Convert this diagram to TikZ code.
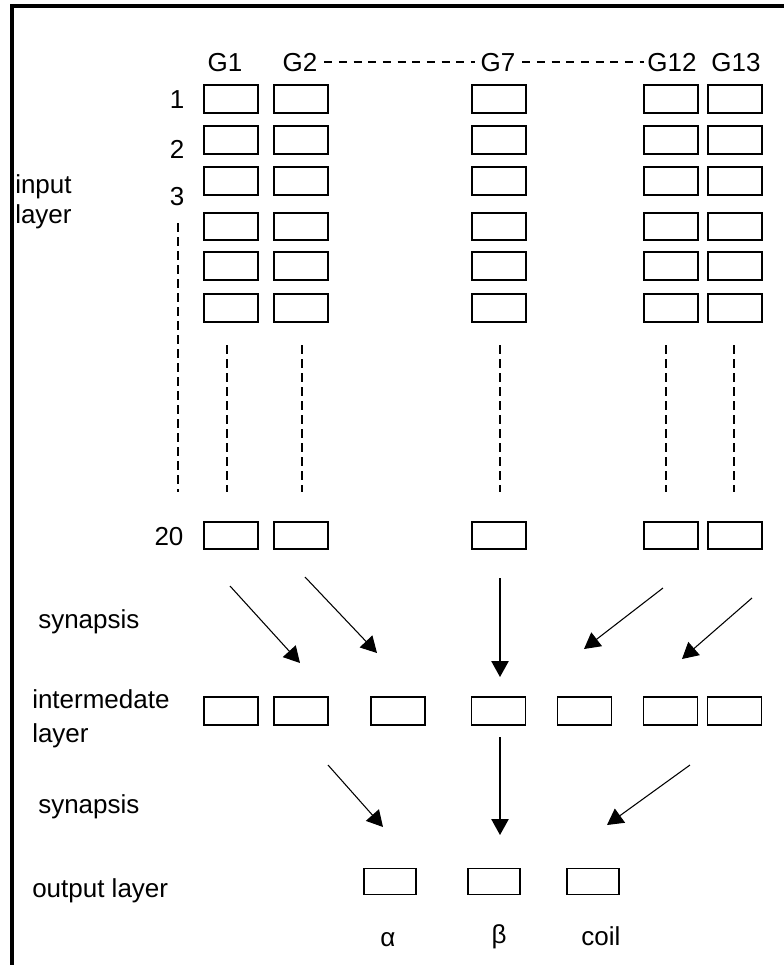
\documentclass[tikz,border=0pt]{standalone}
\usepackage{fontspec}
\setmainfont{Liberation Sans}
\usetikzlibrary{arrows.meta}
\begin{document}
\begin{tikzpicture}[x=0.75pt,y=-0.75pt,
  cell/.style={draw,line width=1.5pt,minimum width=40.5pt,minimum height=20.5pt,inner sep=0pt},
  mcell/.style={draw,line width=1.3pt,minimum width=40.5pt,minimum height=20.5pt,inner sep=0pt},
  ocell/.style={draw,line width=1.2pt,minimum width=39pt,minimum height=19.5pt,inner sep=0pt},
  lbl/.style={inner sep=0pt,font=\fontsize{19.5}{23}\selectfont},
  vdash/.style={line width=1.5pt,dash pattern=on 6.5pt off 4pt},
  hdash/.style={line width=1.5pt,dash pattern=on 6pt off 5pt},
  syn/.style={line width=0.8pt,-{Triangle[length=12pt,width=13pt]}},
]
\useasboundingbox (0,0) rectangle (784,965);
\fill[white] (0,0) rectangle (784,965);
% frame
\draw[line width=3pt] (11.5,965) -- (11.5,6) -- (784,6);

% input layer cells
\foreach \g/\x in {1/231,2/301,7/498.5,12/670.5,13/734.5}{
  \foreach \r/\y in {1/99,2/140,3/181,4/226.5,5/266,6/308,20/535.5}{
    \node[cell] (b\g-\r) at (\x,\y) {};
  }
}
% intermediate layer
\foreach \i/\x in {1/231,2/301,3/398,4/498.5,5/584.5,6/670.5,7/734.5}{
  \node[mcell] (m\i) at (\x,711) {};
}
% output layer
\node[ocell] (o1) at (390,881.5) {};
\node[ocell] (o2) at (494,881.5) {};
\node[ocell] (o3) at (593,881.5) {};

% column labels
\node[lbl,anchor=base] (tg1) at (225,71) {G1};
\node[lbl,anchor=base] (tg2) at (300,71) {G2};
\node[lbl,anchor=base] (tg7) at (498,71) {G7};
\node[lbl,anchor=base] (tg12) at (672,71) {G12};
\node[lbl,anchor=base] (tg13) at (736,71) {G13};
\draw[hdash] ([xshift=5pt]tg2.east) -- ([xshift=-4pt]tg7.west);
\draw[hdash] ([xshift=5pt]tg7.east) -- ([xshift=-2pt]tg12.west);

% row labels
\node[lbl,anchor=base] (n1) at (177,108) {1};
\node[lbl,anchor=base] (n2) at (177,158) {2};
\node[lbl,anchor=base] (n3) at (177,205) {3};
\node[lbl,anchor=base] (n20) at (169,545) {20};
\coordinate (lda) at (178,223);
\coordinate (ldb) at (178,492);
\draw[vdash] (lda) -- (ldb);

% column continuation lines
\foreach \g/\x in {1/227,2/302,7/500,12/666,13/734}{
  \coordinate (d\g a) at (\x,345);
  \coordinate (d\g b) at (\x,492);
  \draw[vdash] (d\g a) -- (d\g b);
}

% left labels
\node[lbl,anchor=base west] (inp) at (15,193) {input};
\node[lbl,anchor=base west] (inpl) at (15,223) {layer};
\node[lbl,anchor=base west] (syn1) at (38,628) {synapsis};
\node[lbl,anchor=base west] (intm) at (32,708) {intermedate};
\node[lbl,anchor=base west] (intl) at (32,742) {layer};
\node[lbl,anchor=base west] (syn2) at (38,813) {synapsis};
\node[lbl,anchor=base west] (outl) at (32,897) {output layer};

% output labels
\node[lbl,anchor=base] (la) at (388,946) {α};
\node[lbl,anchor=base] (lb) at (499,943) {β};
\node[lbl,anchor=base] (lc) at (601,945) {coil};

% first synapsis arrows
\coordinate (a1s) at (230,586); \coordinate (a1e) at (300,663);
\coordinate (a2s) at (305,577); \coordinate (a2e) at (377,653);
\coordinate (a3s) at (500,578); \coordinate (a3e) at (500,677);
\coordinate (a4s) at (663,588); \coordinate (a4e) at (584,649);
\coordinate (a5s) at (752,598); \coordinate (a5e) at (682,659);
\draw[syn] (a1s) -- (a1e);
\draw[syn] (a2s) -- (a2e);
\draw[syn,line width=1.1pt] (a3s) -- (a3e);
\draw[syn] (a4s) -- (a4e);
\draw[syn] (a5s) -- (a5e);

% second synapsis arrows
\coordinate (c1s) at (328,765); \coordinate (c1e) at (383,827);
\coordinate (c2s) at (500,737); \coordinate (c2e) at (500,835);
\coordinate (c3s) at (690,765); \coordinate (c3e) at (607,825);
\draw[syn] (c1s) -- (c1e);
\draw[syn,line width=1.1pt] (c2s) -- (c2e);
\draw[syn] (c3s) -- (c3e);
\end{tikzpicture}
\end{document}
